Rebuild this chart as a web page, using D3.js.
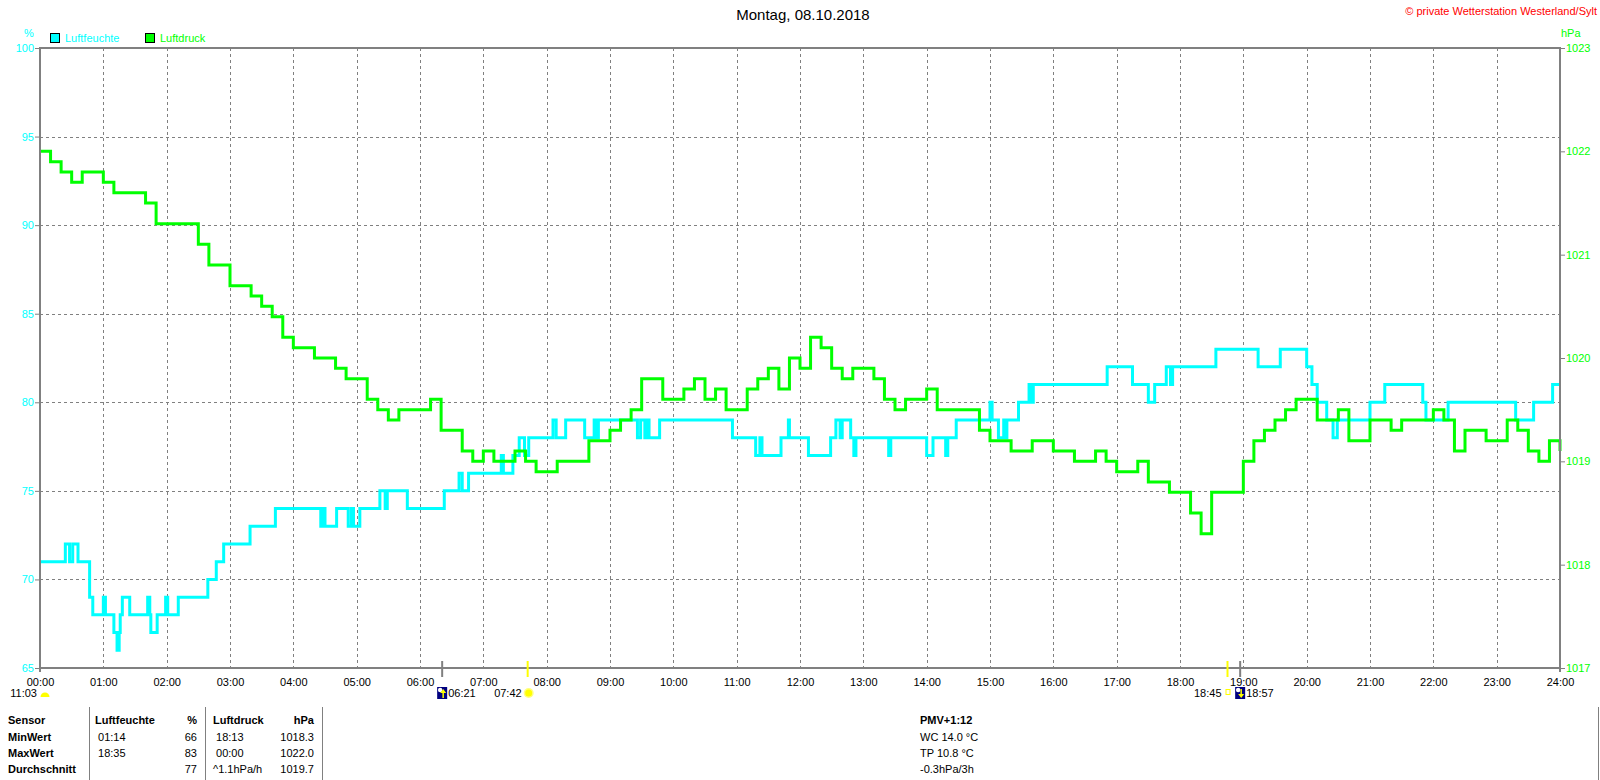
<!DOCTYPE html>
<html>
<head>
<meta charset="utf-8">
<script src="https://cdn.jsdelivr.net/npm/d3@7"></script>
<style>
  body { margin: 0; background: #fff; }
  svg { display: block; font-family: "Liberation Sans", Arial, sans-serif; }
  text { white-space: pre; }
</style>
</head>
<body>
<svg id="chart" width="1600" height="780"></svg>
<script>
// ---- data ----
const chartTitle = "Montag, 08.10.2018";
const copyrightText = "\u00a9 private Wetterstation Westerland/Sylt";
const seriesNames = ["Luftfeuchte", "Luftdruck"];
const humUnit = "%";
const pressUnit = "hPa";

const hourLabels = ["00:00", "01:00", "02:00", "03:00", "04:00", "05:00", "06:00", "07:00",
  "08:00", "09:00", "10:00", "11:00", "12:00", "13:00", "14:00", "15:00", "16:00",
  "17:00", "18:00", "19:00", "20:00", "21:00", "22:00", "23:00", "24:00"];
const humTicks = [65, 70, 75, 80, 85, 90, 95, 100];
const pressTicks = [1017, 1018, 1019, 1020, 1021, 1022, 1023];

// Luftfeuchte (%), change points
const humTimes = ["00:00", "00:24", "00:28", "00:31", "00:36", "00:47", "00:50", "01:00", "01:02",
  "01:10", "01:13", "01:15", "01:16", "01:18", "01:25", "01:42", "01:44", "01:45", "01:51",
  "01:59", "02:01", "02:11", "02:39", "02:47", "02:54", "03:19", "03:43", "04:26", "04:28",
  "04:30", "04:41", "04:52", "04:55", "04:57", "05:03", "05:22", "05:27", "05:29", "05:48",
  "06:23", "06:37", "06:40", "06:46", "07:17", "07:19", "07:28", "07:34", "07:39", "07:43",
  "08:06", "08:09", "08:18", "08:36", "08:45", "08:47", "08:49", "09:26", "09:29", "09:33",
  "09:35", "09:37", "09:47", "10:56", "11:18", "11:22", "11:24", "11:42", "11:49", "11:50",
  "12:08", "12:29", "12:34", "12:38", "12:40", "12:48", "12:51", "12:53", "13:24", "13:26",
  "14:00", "14:06", "14:18", "14:20", "14:28", "15:00", "15:02", "15:08", "15:13", "15:14",
  "15:16", "15:27", "15:37", "15:39", "15:41", "16:51", "17:15", "17:30", "17:36", "17:47",
  "17:51", "17:53", "18:34", "19:14", "19:35", "20:00", "20:05", "20:10", "20:19", "20:25",
  "20:29", "21:00", "21:14", "21:50", "21:53", "22:14", "23:18", "23:35", "23:53", "24:00"];
const humValues = [71, 72, 71, 72, 71, 69, 68, 69, 68,
  67, 66, 67, 68, 69, 68, 69, 68, 67, 68,
  69, 68, 69, 70, 71, 72, 73, 74, 73, 74,
  73, 74, 73, 74, 73, 74, 75, 74, 75, 74,
  75, 76, 75, 76, 77, 76, 77, 78, 77, 78,
  79, 78, 79, 78, 79, 78, 79, 78, 79, 78,
  79, 78, 79, 78, 77, 78, 77, 78, 79, 78,
  77, 78, 79, 78, 79, 78, 77, 78, 77, 78,
  77, 78, 77, 78, 79, 80, 79, 78, 79, 78,
  79, 80, 81, 80, 81, 82, 81, 80, 81, 82,
  81, 82, 83, 82, 83, 82, 81, 80, 79, 78,
  79, 80, 81, 80, 79, 80, 79, 80, 81, 81];

// Luftdruck (hPa), one reading every 10 minutes from 00:00 to 24:00
const pressStepMinutes = 10;
const pressValues = [
  1022.0, 1021.9, 1021.8, 1021.7, 1021.8, 1021.8, 1021.7, 1021.6, 1021.6, 1021.6, 1021.5, 1021.3,
  1021.3, 1021.3, 1021.3, 1021.1, 1020.9, 1020.9, 1020.7, 1020.7, 1020.6, 1020.5, 1020.4, 1020.2,
  1020.1, 1020.1, 1020.0, 1020.0, 1019.9, 1019.8, 1019.8, 1019.6, 1019.5, 1019.4, 1019.5, 1019.5,
  1019.5, 1019.6, 1019.3, 1019.3, 1019.1, 1019.0, 1019.1, 1019.0, 1019.0, 1019.1, 1019.0, 1018.9,
  1018.9, 1019.0, 1019.0, 1019.0, 1019.2, 1019.2, 1019.3, 1019.4, 1019.5, 1019.8, 1019.8, 1019.6,
  1019.6, 1019.7, 1019.8, 1019.6, 1019.7, 1019.5, 1019.5, 1019.7, 1019.8, 1019.9, 1019.7, 1020.0,
  1019.9, 1020.2, 1020.1, 1019.9, 1019.8, 1019.9, 1019.9, 1019.8, 1019.6, 1019.5, 1019.6, 1019.6,
  1019.7, 1019.5, 1019.5, 1019.5, 1019.5, 1019.3, 1019.2, 1019.2, 1019.1, 1019.1, 1019.2, 1019.2,
  1019.1, 1019.1, 1019.0, 1019.0, 1019.1, 1019.0, 1018.9, 1018.9, 1019.0, 1018.8, 1018.8, 1018.7,
  1018.7, 1018.5, 1018.3, 1018.7, 1018.7, 1018.7, 1019.0, 1019.2, 1019.3, 1019.4, 1019.5, 1019.6,
  1019.6, 1019.4, 1019.4, 1019.5, 1019.2, 1019.2, 1019.4, 1019.4, 1019.3, 1019.4, 1019.4, 1019.4,
  1019.5, 1019.4, 1019.1, 1019.3, 1019.3, 1019.2, 1019.2, 1019.4, 1019.3, 1019.1, 1019.0, 1019.2,
  1019.1];

// sun / moon events under the time axis
const leftEventLabel = "11:03";
const eventTimes = ["06:21", "07:42", "18:45", "18:57"];
const eventKinds = ["moonrise", "sunrise", "sunset", "moonset"];

// statistics table
const tableHeader = ["Sensor", "Luftfeuchte", "%", "Luftdruck", "hPa"];
const tableRows = [
  ["MinWert", " 01:14", "66", " 18:13", "1018.3"],
  ["MaxWert", " 18:35", "83", " 00:00", "1022.0"],
  ["Durchschnitt", "", "77", "^1.1hPa/h", "1019.7"]
];
const infoLines = ["PMV+1:12", "WC 14.0 \u00b0C", "TP 10.8 \u00b0C", "-0.3hPa/3h"];

// ---- drawing ----
const HUM_COLOR = "#00ffff";
const PRESS_COLOR = "#00ff00";
const AXIS_COLOR = "#808080";
const FONT = "11px";

const toMinutes = s => { const [h, m] = s.split(":").map(Number); return h * 60 + m; };

const plot = { left: 40, right: 1560, top: 48, bottom: 668 };
const svg = d3.select("#chart");

svg.append("rect").attr("width", 1600).attr("height", 780).attr("fill", "#fff");

const x = d3.scaleLinear().domain([0, 1440]).range([plot.left, plot.right]);
const yHum = d3.scaleLinear().domain([65, 100]).range([plot.bottom, plot.top]);
const yPress = d3.scaleLinear().domain([1017, 1023]).range([plot.bottom, plot.top]);

const hourMinutes = hourLabels.map(toMinutes);

// grid
const grid = svg.append("g")
  .attr("stroke", AXIS_COLOR)
  .attr("stroke-width", 1)
  .attr("stroke-dasharray", "3,3");
grid.selectAll("line.v")
  .data(hourMinutes.slice(1, -1))
  .join("line")
  .attr("class", "v")
  .attr("x1", d => Math.round(x(d)) + 0.5).attr("x2", d => Math.round(x(d)) + 0.5)
  .attr("y1", plot.top).attr("y2", plot.bottom);
grid.selectAll("line.h")
  .data(humTicks.slice(1, -1))
  .join("line")
  .attr("class", "h")
  .attr("x1", plot.left).attr("x2", plot.right)
  .attr("y1", d => Math.round(yHum(d)) + 0.5).attr("y2", d => Math.round(yHum(d)) + 0.5);

// axes
function styleAxis(g, color) {
  g.select(".domain").remove();
  g.selectAll(".tick line").attr("stroke", AXIS_COLOR);
  g.selectAll(".tick text")
    .attr("fill", color)
    .style("font-family", '"Liberation Sans", Arial, sans-serif')
    .style("font-size", FONT);
}

svg.append("g")
  .attr("transform", `translate(${plot.left},0)`)
  .call(d3.axisLeft(yHum).tickValues(humTicks).tickFormat(d3.format("d")).tickSize(5).tickPadding(1))
  .call(g => styleAxis(g, HUM_COLOR));

svg.append("g")
  .attr("transform", `translate(${plot.right},0)`)
  .call(d3.axisRight(yPress).tickValues(pressTicks).tickFormat(d3.format("d")).tickSize(5).tickPadding(1))
  .call(g => styleAxis(g, PRESS_COLOR));

svg.append("g")
  .attr("transform", `translate(0,${plot.bottom})`)
  .call(d3.axisBottom(x).tickValues(hourMinutes).tickFormat((d, i) => hourLabels[i])
    .tickSize(0).tickPadding(10))
  .call(g => styleAxis(g, "#000"));

// unit labels
svg.append("text").attr("x", 29).attr("y", 37).attr("text-anchor", "middle")
  .attr("fill", HUM_COLOR).style("font-size", FONT).text(humUnit);
svg.append("text").attr("x", 1561).attr("y", 37)
  .attr("fill", PRESS_COLOR).style("font-size", FONT).text(pressUnit);

// series
const humData = humTimes.map((t, i) => [toMinutes(t), humValues[i]]);
const pressData = pressValues.map((v, i) => [i * pressStepMinutes, v]);

svg.append("path")
  .datum(humData)
  .attr("fill", "none")
  .attr("stroke", HUM_COLOR)
  .attr("stroke-width", 3)
  .attr("d", d3.line().x(d => x(d[0])).y(d => yHum(d[1])).curve(d3.curveStepAfter));

svg.append("path")
  .datum(pressData)
  .attr("fill", "none")
  .attr("stroke", PRESS_COLOR)
  .attr("stroke-width", 3)
  .attr("d", d3.line().x(d => x(d[0])).y(d => yPress(d[1])).curve(d3.curveStepAfter));

// frame
const frame = svg.append("g").attr("stroke", AXIS_COLOR).attr("stroke-width", 2).attr("fill", "none");
frame.append("line").attr("x1", plot.left).attr("x2", plot.right).attr("y1", plot.top).attr("y2", plot.top);
frame.append("line").attr("x1", plot.left - 1).attr("x2", plot.right + 1).attr("y1", plot.bottom).attr("y2", plot.bottom);
frame.append("line").attr("x1", plot.left).attr("x2", plot.left).attr("y1", plot.top - 1).attr("y2", plot.bottom + 4);
frame.append("line").attr("x1", plot.right).attr("x2", plot.right).attr("y1", plot.top - 1).attr("y2", plot.bottom + 4);

// title and copyright
svg.append("text").attr("x", 803).attr("y", 20).attr("text-anchor", "middle")
  .style("font-size", "15px").attr("fill", "#000").text(chartTitle);
svg.append("text").attr("x", 1597).attr("y", 15).attr("text-anchor", "end")
  .style("font-size", FONT).attr("fill", "#ff0000").text(copyrightText);

// legend
const legendColors = [HUM_COLOR, PRESS_COLOR];
const legendX = [50, 145];
seriesNames.forEach((name, i) => {
  svg.append("rect").attr("x", legendX[i] + 0.5).attr("y", 33.5).attr("width", 9).attr("height", 9)
    .attr("fill", legendColors[i]).attr("stroke", "#000").attr("stroke-width", 1);
  svg.append("text").attr("x", legendX[i] + 15).attr("y", 42)
    .attr("fill", legendColors[i]).style("font-size", FONT).text(name);
});

// sun / moon events
const evY = 697;
function moonIcon(g, cx, up) {
  g.append("rect").attr("x", cx - 5).attr("y", evY - 10).attr("width", 10).attr("height", 12).attr("fill", "#000080");
  g.append("circle").attr("cx", cx - 2).attr("cy", evY - 7).attr("r", 2.2).attr("fill", "#fff");
  const ay = up ? [evY + 1, evY - 6] : [evY - 8, evY - 1];
  g.append("line").attr("x1", cx + 1).attr("x2", cx + 1).attr("y1", ay[0]).attr("y2", ay[1])
    .attr("stroke", "#ffff00").attr("stroke-width", 1.5);
  g.append("path").attr("fill", "#ffff00")
    .attr("d", up ? `M${cx - 2},${evY - 4}L${cx + 1},${evY - 8}L${cx + 4},${evY - 4}Z`
                  : `M${cx - 2},${evY - 3}L${cx + 1},${evY + 1}L${cx + 4},${evY - 3}Z`);
}
function sunIcon(g, cx) {
  g.append("circle").attr("cx", cx).attr("cy", evY - 4).attr("r", 5).attr("fill", "#ffff80");
  g.append("circle").attr("cx", cx).attr("cy", evY - 4).attr("r", 3.5).attr("fill", "#ffff00");
}
const ev = svg.append("g").style("font-size", FONT);
eventTimes.forEach((t, i) => {
  const px = x(toMinutes(t));
  const kind = eventKinds[i];
  const isSun = kind.startsWith("sun");
  ev.append("line").attr("x1", px).attr("x2", px).attr("y1", 661).attr("y2", 677)
    .attr("stroke", isSun ? "#ffff00" : AXIS_COLOR).attr("stroke-width", 2);
  if (kind === "moonrise" || kind === "moonset") {
    moonIcon(ev, px, kind === "moonrise");
    ev.append("text").attr("x", px + 6).attr("y", evY).attr("fill", "#000").text(t);
  } else {
    if (kind === "sunrise") sunIcon(ev, px + 1);
    else ev.append("rect").attr("x", px - 1.5).attr("y", evY - 7.5).attr("width", 4).attr("height", 5)
      .attr("fill", "none").attr("stroke", "#ffff00").attr("stroke-width", 1);
    ev.append("text").attr("x", px - 6).attr("y", evY).attr("text-anchor", "end").attr("fill", "#000").text(t);
  }
});
ev.append("text").attr("x", 37).attr("y", evY).attr("text-anchor", "end").attr("fill", "#000").text(leftEventLabel);
ev.append("path").attr("fill", "#ffff00")
  .attr("d", d3.arc()({ innerRadius: 0, outerRadius: 4.5, startAngle: -Math.PI / 2, endAngle: Math.PI / 2 }))
  .attr("transform", `translate(${plot.left + 5},${evY})`);

// statistics table
const rowY = [724, 741, 757, 773];
const colX = [8, 95, 197, 213, 314];
const colAnchor = ["start", "start", "end", "start", "end"];
const table = svg.append("g").style("font-size", FONT).attr("fill", "#000");
[tableHeader, ...tableRows].forEach((row, r) => {
  row.forEach((cell, c) => {
    table.append("text")
      .attr("x", colX[c]).attr("y", rowY[r])
      .attr("text-anchor", colAnchor[c])
      .style("font-weight", (r === 0 || c === 0) ? "bold" : "normal")
      .text(cell);
  });
});
const sepX = [89, 205, 322, 1598];
table.selectAll("line.sep").data(sepX).join("line")
  .attr("x1", d => d + 0.5).attr("x2", d => d + 0.5).attr("y1", 707).attr("y2", 780)
  .attr("stroke", AXIS_COLOR).attr("stroke-width", 1);
infoLines.forEach((line, i) => {
  table.append("text").attr("x", 920).attr("y", rowY[i])
    .style("font-weight", i === 0 ? "bold" : "normal").text(line);
});
</script>
</body>
</html>
